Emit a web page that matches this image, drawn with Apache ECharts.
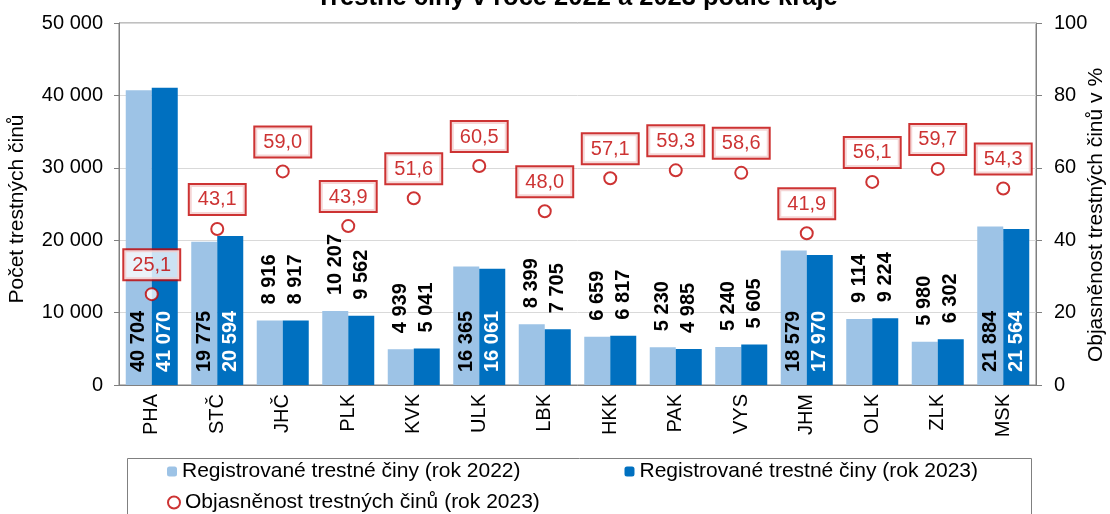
<html>
<head>
<meta charset="utf-8">
<script type="text/javascript" src="https://cdn.jsdelivr.net/npm/echarts@6/dist/echarts.min.js"></script>
<style type="text/css">
	body { margin: 0; background: #fff; }
	#chart { width: 1110px; height: 514px; }
</style>
<title>Trestné činy podle kraje</title>
</head>
<body>
<div id="chart"></div>
<script type="text/javascript">

// data
var regions = ['PHA', 'STČ', 'JHČ', 'PLK', 'KVK', 'ULK', 'LBK', 'HKK', 'PAK', 'VYS', 'JHM', 'OLK', 'ZLK', 'MSK'];
var crimes2022 = [40704, 19775, 8916, 10207, 4939, 16365, 8399, 6659, 5230, 5240, 18579, 9114, 5980, 21884];
var crimes2023 = [41070, 20594, 8917, 9562, 5041, 16061, 7705, 6817, 4985, 5605, 17970, 9224, 6302, 21564];
var clearance2023 = [25.1, 43.1, 59.0, 43.9, 51.6, 60.5, 48.0, 57.1, 59.3, 58.6, 41.9, 56.1, 59.7, 54.3];

var seriesNames = [
	'Registrované trestné činy (rok 2022)',
	'Registrované trestné činy (rok 2023)',
	'Objasněnost trestných činů (rok 2023)'
];

var FONT = 'Liberation Sans, Arial, sans-serif';
var LIGHT = '#9DC3E6', DARK = '#0070C0', RED = '#C00000', AXIS = '#808080';

function fmtNum(v) {
	return String(v).replace(/\B(?=(\d{3})+(?!\d))/g, ' ');
}

function fmtPct(v) {
	return v.toFixed(1).replace('.', ',');
}

// big bars get the label inside at the base, small ones above
function barData(values, insideColor) {
	return values.map(function (v) {
		var inside = v > 15000;
		return {
			value: v,
			label: {
				show: true,
				position: inside ? 'insideBottom' : 'top',
				distance: inside ? 13 : 16,
				rotate: 90,
				align: 'left',
				verticalAlign: 'middle',
				color: inside ? insideColor : '#000',
				fontFamily: FONT,
				fontSize: 20,
				fontWeight: 'bold',
				formatter: function (p) { return fmtNum(p.value); }
			}
		};
	});
}

var chart = echarts.init(document.getElementById('chart'));

var option = {
	animation: false,
	textStyle: { fontFamily: FONT },
	title: {
		text: 'Trestné činy v roce 2022 a 2023 podle kraje',
		left: 311,
		top: -20,
		textStyle: { fontFamily: FONT, fontSize: 25.5, fontWeight: 'bold', color: '#000' }
	},
	graphic: [{
		type: 'rect',
		shape: { x: 127.5, y: 458.5, width: 904, height: 70 },
		style: { fill: 'none', stroke: AXIS, lineWidth: 1 },
		silent: true
	}],
	legend: [
		{
			data: [seriesNames[0], seriesNames[1]],
			left: 162,
			top: 456,
			itemGap: 104,
			itemWidth: 10,
			itemHeight: 10,
			textStyle: { fontFamily: FONT, fontSize: 21, color: '#000' }
		},
		{
			data: [seriesNames[2]],
			left: 162,
			top: 487,
			itemWidth: 12,
			itemHeight: 12,
			textStyle: { fontFamily: FONT, fontSize: 21, color: '#000' }
		}
	],
	grid: {
		left: 119,
		right: 74,
		top: 23,
		bottom: 129,
		outerBoundsMode: 'none',
		show: true,
		borderColor: AXIS,
		borderWidth: 1
	},
	xAxis: {
		type: 'category',
		data: regions,
		axisLine: { lineStyle: { color: AXIS } },
		axisTick: { show: false },
		axisLabel: {
			rotate: 90,
			margin: 9,
			color: '#000',
			fontFamily: FONT,
			fontSize: 20
		}
	},
	yAxis: [
		{
			type: 'value',
			min: 0,
			max: 50000,
			interval: 10000,
			name: 'Počet trestných činů',
			nameLocation: 'middle',
			nameGap: 91,
			nameTextStyle: { color: '#000', fontFamily: FONT, fontSize: 21, padding: [0, 10, 0, 0] },
			axisLine: { show: true, lineStyle: { color: AXIS } },
			axisTick: { show: true, length: 5, lineStyle: { color: AXIS } },
			axisLabel: {
				color: '#000',
				fontFamily: FONT,
				fontSize: 20,
				margin: 16,
				formatter: function (v) { return fmtNum(v); }
			},
			splitLine: { lineStyle: { color: '#D9D9D9' } }
		},
		{
			type: 'value',
			min: 0,
			max: 100,
			interval: 20,
			position: 'right',
			name: 'Objasněnost trestných činů v %',
			nameLocation: 'middle',
			nameGap: 50,
			nameMoveOverlap: false,
			nameRotate: 90,
			nameTextStyle: { color: '#000', fontFamily: FONT, fontSize: 21, padding: [0, 22, 0, 0] },
			axisLine: { show: true, lineStyle: { color: AXIS } },
			axisTick: { show: true, length: 6, lineStyle: { color: AXIS } },
			axisLabel: {
				color: '#000',
				fontFamily: FONT,
				fontSize: 20,
				margin: 18
			},
			splitLine: { show: false }
		}
	],
	series: [
		{
			name: seriesNames[0],
			type: 'bar',
			barWidth: 26,
			barGap: '0%',
			itemStyle: { color: LIGHT },
			data: barData(crimes2022, '#000')
		},
		{
			name: seriesNames[1],
			type: 'bar',
			barWidth: 26,
			barGap: '0%',
			itemStyle: { color: DARK },
			data: barData(crimes2023, '#fff')
		},
		{
			name: seriesNames[2],
			type: 'scatter',
			yAxisIndex: 1,
			symbol: 'emptyCircle',
			symbolSize: 12,
			z: 5,
			itemStyle: { color: RED, borderColor: RED, borderWidth: 2.5 },
			label: {
				show: true,
				position: 'top',
				distance: 8,
				color: RED,
				fontFamily: FONT,
				fontSize: 20,
				backgroundColor: '#fff',
				borderColor: RED,
				borderWidth: 2,
				padding: [5, 8, 4, 8],
				formatter: function (p) { return fmtPct(p.value); }
			},
			data: clearance2023
		}
	]
};

chart.setOption(option);
</script>
</body>
</html>
